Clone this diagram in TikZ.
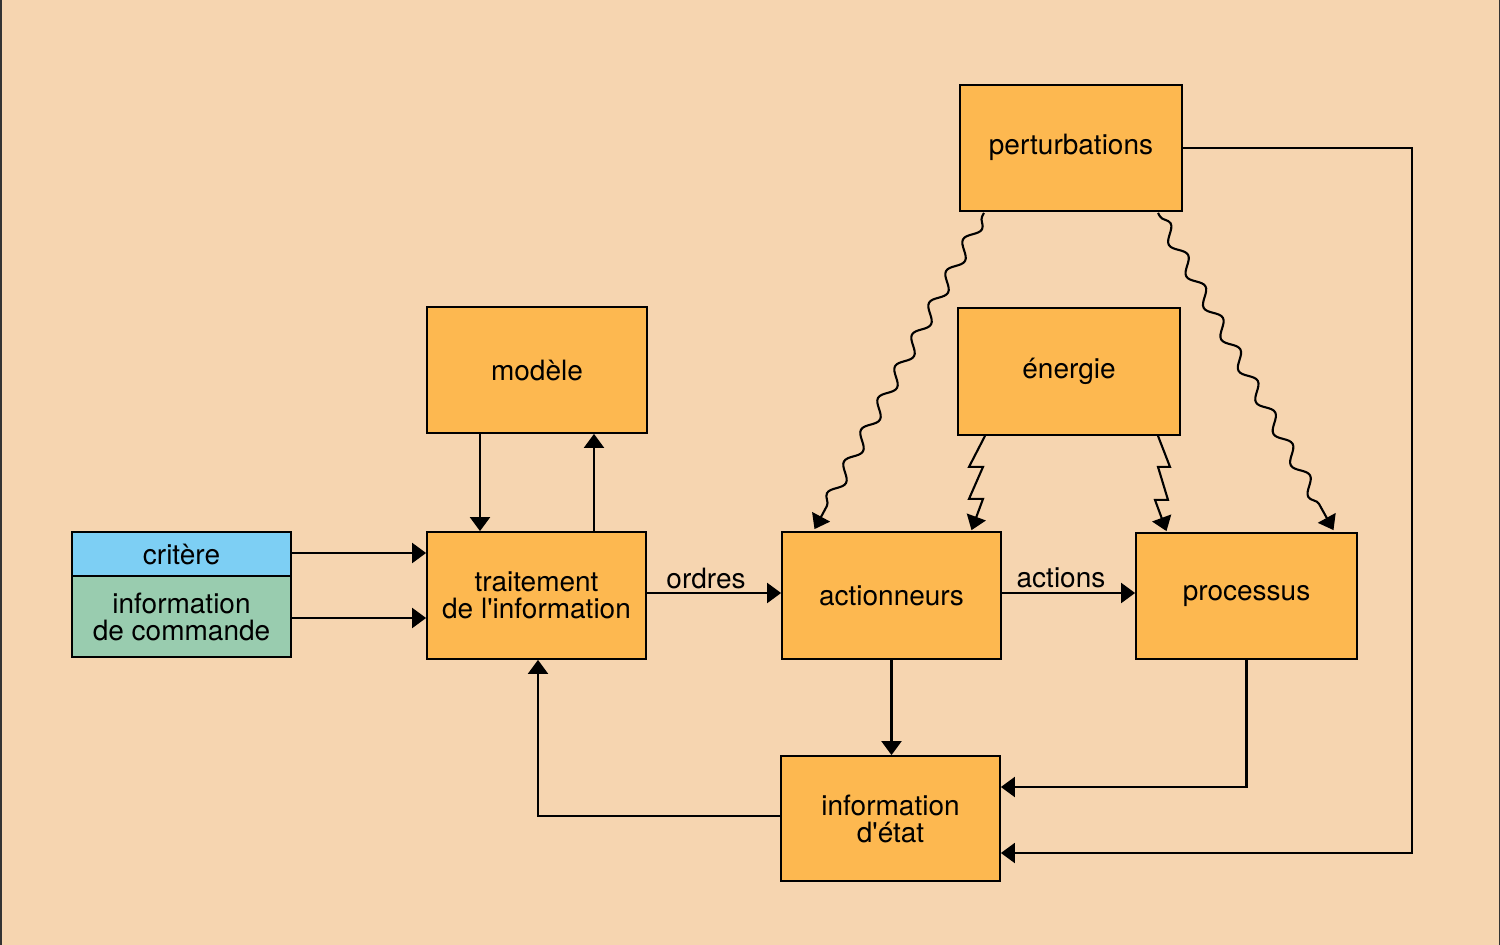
\documentclass[tikz,border=0pt]{standalone}
\usepackage{fontspec}
\setmainfont{TeX Gyre Heros}
\usetikzlibrary{arrows.meta,decorations.pathmorphing,calc}
\definecolor{bgc}{HTML}{F6D5B0}
\definecolor{boxc}{HTML}{FDB850}
\definecolor{bluec}{HTML}{7DCFF4}
\definecolor{greenc}{HTML}{99CCAF}
\begin{document}
\begin{tikzpicture}[x=1pt,y=-1pt,
  every node/.style={font=\fontsize{28}{27}\selectfont},
  boxst/.style={draw=black, line width=1.8pt, fill=boxc, inner sep=0pt, align=center},
  arr/.style={line width=2.1pt, -{Triangle[length=14pt,width=20pt]}},
  wavy/.style={arr, decorate, decoration={snake, amplitude=6pt, segment length=36pt, pre length=4pt, post length=13pt}},
  lbl/.style={inner sep=0pt}]
\useasboundingbox (0,0) rectangle (1500,945);
\fill[bgc] (0,0) rectangle (1500,945);
\draw[line width=1.5pt, black!80] (0.75,0) -- (0.75,945);
\draw[line width=1.5pt, black!80] (1499.25,0) -- (1499.25,945);
% boxes
\node[boxst, minimum width=222pt, minimum height=126pt] (pert) at (1071,148) {perturbations\strut};
\node[boxst, minimum width=220pt, minimum height=126pt] (modele) at (537,370) {modèle};
\node[boxst, minimum width=222pt, minimum height=127pt] (energie) at (1069,371.5) {énergie};
\node[boxst, fill=bluec, minimum width=219pt, minimum height=44pt] (critere) at (181.5,554) {critère};
\node[boxst, fill=greenc, minimum width=219pt, minimum height=81pt] (infocmd) at (181.5,616.5) {information\\de commande};
\node[boxst, minimum width=219pt, minimum height=127pt] (trait) at (536.5,595.5) {traitement\\de l\textquotesingle information};
\node[boxst, minimum width=219pt, minimum height=127pt] (act) at (891.5,595.5) {actionneurs};
\node[boxst, minimum width=221pt, minimum height=126pt] (proc) at (1246.5,596) {processus};
\node[boxst, minimum width=219pt, minimum height=125pt] (etat) at (890.5,818.5) {information\\d\textquotesingle état};
% labels
\node[lbl] (ordres) at (706,578) {ordres};
\node[lbl] (actions) at (1061,578) {actions};
\coordinate (rightx) at (1412,0);
\coordinate (etatlow) at ([yshift=-34.5pt]etat.east);
\coordinate (etathigh) at ([yshift=31.5pt]etat.east);
% straight arrows
\draw[arr] ([yshift=1pt]critere.east) -- ([yshift=1pt]critere.east -| trait.west);
\draw[arr] ([yshift=-1.5pt]infocmd.east) -- ([yshift=-1.5pt]infocmd.east -| trait.west);
\draw[arr] ([xshift=-57pt]modele.south) -- ([xshift=-56.5pt]trait.north);
\draw[arr] ([xshift=57.5pt]trait.north) -- ([xshift=57pt]modele.south);
\draw[arr] ([yshift=2.5pt]trait.east) -- ([yshift=2.5pt]act.west);
\draw[arr] ([yshift=2.5pt]act.east) -- ([yshift=2.5pt]act.east -| proc.west);
\draw[arr] (act.south) -- (act.south |- etat.north);
\draw[arr] (proc.south) |- (etathigh);
\draw[arr] (pert.east) -| (rightx |- etatlow) -- (etatlow);
\draw[arr] ([yshift=2.5pt]etat.west) -| ([xshift=1.5pt]trait.south);
% wavy arrows
\draw[wavy] ([xshift=-87pt,yshift=-1pt]pert.south) -- ([xshift=-77pt,yshift=2pt]act.north);
\draw[wavy] ([xshift=87pt,yshift=-1pt]pert.south) -- ([xshift=87pt,yshift=2pt]proc.north);
% zigzag arrows
\draw[arr] ([xshift=-84pt]energie.south) -- ++(-16,31) -- ++(14,0) -- ++(-14,32) -- ++(14,0) -- ([xshift=80pt,yshift=1pt]act.north);
\draw[arr] ([xshift=89pt]energie.south) -- ++(12,31) -- ++(-12,0) -- ++(10,33) -- ++(-13,0) -- ([xshift=-80pt,yshift=1pt]proc.north);
\end{tikzpicture}
\end{document}
